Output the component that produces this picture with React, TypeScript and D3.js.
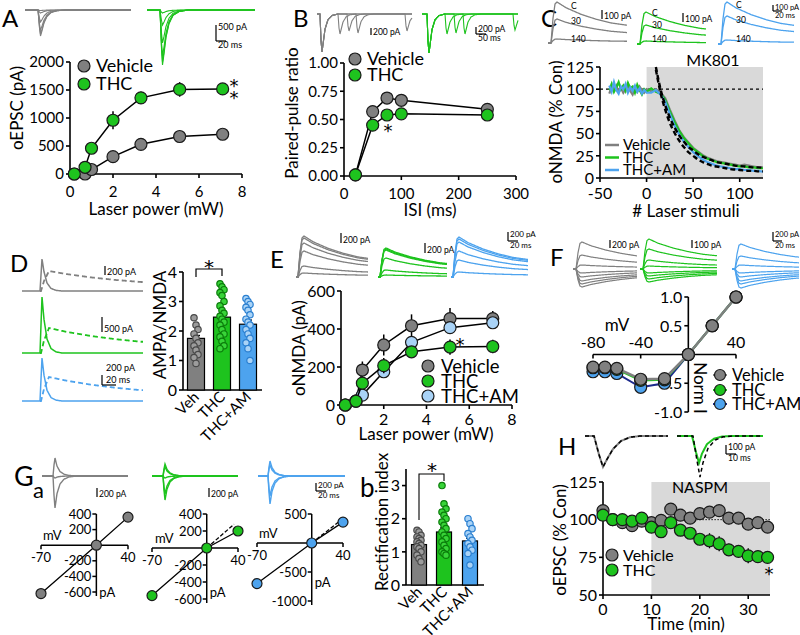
import React from 'react';
import * as d3 from 'd3';

// ---------------- DATA ----------------
// A
const laserPower = [0.2, 0.7, 1.0, 2.0, 3.3, 5.1, 7.1];
const aVehicle = [0, 0, 80, 310, 530, 670, 710];
const aVehicleErr = [0, 0, 20, 40, 50, 60, 40];
const aTHC = [0, 120, 460, 960, 1360, 1510, 1520];
const aTHCErr = [0, 20, 90, 160, 110, 130, 100];
const aTicksX = [0, 2, 4, 6, 8];
const aTicksY = [0, 500, 1000, 1500, 2000];
const aTraceVeh = [26, 24, 20, 12, 3, 0.5];
const aTraceTHC = [55, 52, 46, 33, 15, 3];

// B
const isi = [20, 50, 75, 100, 250];
const bVehicle = [0.01, 0.57, 0.69, 0.67, 0.59];
const bVehicleErr = [0.01, 0.03, 0.05, 0.04, 0.03];
const bTHC = [0.01, 0.45, 0.54, 0.55, 0.54];
const bTHCErr = [0.01, 0.03, 0.03, 0.03, 0.02];
const bTicksX = [0, 100, 200, 300];
const bTicksY = [0, 0.25, 0.5, 0.75, 1.0];

// C
const cPreStim = [-40, -37.5, -35, -32.5, -30, -27.5, -25, -22.5, -20, -17.5, -15, -12.5, -10, -7.5, -5, -2.5, 0];
const cPostStim = [5, 10, 15, 20, 25, 30, 35, 40, 45, 50, 55, 60, 65, 70, 75, 80, 85, 90, 95, 100, 105, 110, 115, 120, 125];
const cVehPre = [95, 103, 99, 104, 97, 101, 96, 100, 105, 98, 94, 101, 97, 103, 99, 96, 100];
const cTHCPre = [99, 106, 97, 102, 108, 100, 104, 98, 107, 101, 103, 96, 105, 99, 94, 100, 97];
const cAMPre = [104, 97, 108, 99, 95, 103, 100, 106, 96, 102, 98, 104, 97, 101, 95, 99, 96];
const cVehPost = [98, 100, 96, 90, 77, 65, 54, 46, 40, 34, 30, 26, 23, 21, 19, 18, 17, 16, 15, 14, 15, 14, 13, 12, 12];
const cTHCPost = [101, 97, 95, 88, 75, 63, 53, 45, 39, 33, 29, 25, 22, 20, 18, 17, 16, 15, 14, 13, 13, 12, 12, 11, 11];
const cAMPost = [96, 99, 94, 86, 72, 59, 49, 41, 35, 29, 25, 21, 18, 16, 14, 13, 12, 11, 10, 10, 9, 9, 8, 8, 7];
const cFitStim = [10, 15, 20, 25, 30, 35, 40, 45, 50, 55, 60, 65, 70, 75, 80, 85, 90, 95, 100, 105, 110, 115, 120, 125];
const cFit1 = [125, 100, 82, 68, 57, 48, 41, 35, 31, 27, 24, 22, 20, 18, 17, 16, 15, 14, 13.5, 13, 12.5, 12, 12, 11.5];
const cFit2 = [122, 96, 77, 62, 51, 42, 35, 29, 25, 21, 18, 16, 14, 13, 12, 11, 10, 9.5, 9, 8.5, 8, 8, 7.5, 7.5];
const cTicksX = [-50, 0, 50, 100];
const cTicksY = [0, 25, 50, 75, 100, 125];
const cTraceLabels = ['C', '30', '140'];
const cTraceVeh = [41, 24, 4];
const cTraceTHC = [32, 19, 3];
const cTraceAM = [42, 28, 4];

// D
const groups = ['Veh', 'THC', 'THC+AM'];
const dMeans = [1.75, 2.47, 2.23];
const dErr = [0.1, 0.12, 0.14];
const dVehDots = [2.45, 2.2, 2.05, 1.9, 1.75, 1.6, 1.5, 1.35, 1.2, 1.1, 0.9];
const dTHCDots = [3.6, 3.5, 3.4, 3.3, 3.2, 3.0, 2.85, 2.7, 2.6, 2.5, 2.4, 2.3, 2.2, 2.05, 1.9, 1.8, 1.65, 1.5, 1.4];
const dAMDots = [3.1, 3.0, 2.9, 2.8, 2.7, 2.55, 2.4, 2.3, 2.2, 2.05, 1.9, 1.75, 1.6, 1.4, 1.0];
const dTicksY = [0, 1, 2, 3, 4];

// E
const eVehicle = [0, 20, 184, 316, 417, 455, 455];
const eVehicleErr = [0, 5, 45, 55, 60, 55, 40];
const eTHC = [0, 20, 115, 207, 280, 305, 308];
const eTHCErr = [0, 5, 25, 40, 30, 40, 35];
const eAM = [0, 20, 52, 175, 330, 407, 433];
const eAMErr = [0, 5, 15, 25, 30, 25, 25];
const eTicksX = [0, 2, 4, 6, 8];
const eTicksY = [0, 200, 400, 600];
const eTraceVeh = [41, 39, 34, 26, 11, 4];
const eTraceTHC = [29, 28, 27, 19, 7, 2];
const eTraceAM = [40, 38, 35, 26, 17, 5];

// F
const fmV = [-80, -70, -60, -40, -20, 0, 20, 40];
const fVehicle = [-0.22, -0.22, -0.24, -0.43, -0.42, 0, 0.5, 1.0];
const fTHC = [-0.23, -0.23, -0.26, -0.45, -0.44, 0, 0.5, 1.0];
const fAM = [-0.3, -0.3, -0.33, -0.57, -0.5, 0, 0.5, 1.0];
const fTicksX = [-80, -40, 40];
const fTicksY = [1.0, 0.5, -0.5, -1.0];
const fTraceVeh = [-27, -14, -4, 4, 8, 12, 15, 18];
const fTraceTHC = [-30, -20, -9, -3, 4, 7, 10, 13];
const fTraceAM = [-25, -13, -4, 4, 8, 12, 15, 19];

// G a
const gmV = [-70, 0, 40];
const gVehicle = [-620, 0, 360];
const gTHC = [-560, 0, 200];
const gAM = [-700, 0, 360];
const gTHCLinear = [0, 280];
const gAMLinear = [0, 420];
const gTicks1 = [400, 200, -200, -400, -600];
const gTicks3 = [500, -500, -1000];
const gTraceVeh = [-18, 32, 2];
const gTraceTHC = [-12, -9, 24, 18, 2];
const gTraceAM = [-15, -11, 28, 20];

// G b
const gbMeans = [1.22, 1.6, 1.33];
const gbErr = [0.06, 0.12, 0.08];
const gbVehDots = [1.65, 1.6, 1.5, 1.45, 1.4, 1.35, 1.3, 1.25, 1.2, 1.15, 1.1, 1.0, 0.9, 0.8, 0.7];
const gbTHCDots = [3.0, 2.45, 2.3, 2.2, 2.1, 2.0, 1.9, 1.8, 1.7, 1.6, 1.5, 1.4, 1.3, 1.2, 1.1, 1.0, 0.95, 0.9];
const gbAMDots = [2.0, 1.85, 1.7, 1.55, 1.45, 1.35, 1.25, 1.15, 1.05, 0.95, 0.6];
const gbTicksY = [0, 1, 2, 3];

// H
const hTime = [0, 2, 4, 6, 8, 10, 12, 14, 16, 18, 20, 22, 24, 26, 28, 30, 32, 34];
const hVehicle = [106, 100, 98, 96, 99, 98, 99.5, 107, 103, 101, 104, 105, 106, 101, 101, 97, 98, 95];
const hVehicleErr = [2, 1, 2, 2, 1, 2, 2, 2, 3, 3, 3, 3, 3, 4, 3, 3, 3, 2];
const hTHC = [103, 100, 100, 99, 101, 95, 92, 98, 93, 91, 87, 86, 84, 80, 79, 76, 75.5, 75];
const hTHCErr = [2, 1, 1, 2, 1, 2, 2, 2, 3, 3, 4, 5, 5, 4, 4, 5, 4, 4];
const hTicksX = [0, 10, 20, 30];
const hTicksY = [50, 75, 100, 125];

// ---------------- STYLE ----------------
const FONT = "Lato, 'Open Sans', 'DejaVu Sans', sans-serif";
const GRAY = '#808080';
const GREEN = '#1ec31e';
const BLUE = '#4da3ee';
const LBLUE = '#a9d3f7';
const DBLUE = '#1c2a8c';
const SHADE = '#d9d9d9';
const AX = 1.6;

// ---------------- HELPERS ----------------
type Key = [number, number][];
const K_FAST: Key = [[0, 0], [1.5, 0.7], [2.5, 1], [4, 0.8], [6, 0.5], [9, 0.25], [13, 0.1], [19, 0.03], [28, 0]];
const K_PP: Key = [[0, 0], [1, 0.7], [2, 1], [3, 0.8], [5, 0.4], [8, 0.15], [12, 0.04], [18, 0]];
const K_NMDA: Key = [[0, 0], [2, 0.6], [4, 0.95], [6, 1], [15, 0.86], [30, 0.7], [45, 0.58], [60, 0.49], [80, 0.42]];
const K_NMDA_D: Key = [[0, 0], [3, 0.5], [8, 1], [25, 0.85], [50, 0.68], [75, 0.55], [100, 0.45]];
const K_AMPA_D: Key = [[0, 0], [1, 0.5], [2, 1], [4, 0.6], [7, 0.25], [11, 0.08], [16, 0.02], [22, 0]];
const K_G: Key = [[0, 0], [1, 0.6], [2, 1], [4, 0.55], [7, 0.25], [11, 0.1], [16, 0.03], [24, 0]];
const K_H: Key = [[0, 0], [5, 0.6], [9, 1], [13, 0.75], [19, 0.42], [27, 0.16], [36, 0.04], [46, 0]];
const K_H2: Key = [[0, 0], [4, 0.6], [7, 1], [10, 0.65], [15, 0.3], [22, 0.1], [30, 0.02], [40, 0]];

function kernel(keys: Key) {
  const s = d3.scaleLinear().domain(keys.map(k => k[0])).range(keys.map(k => k[1])).clamp(true);
  return (t: number) => (t < 0 ? 0 : s(t));
}
type Ev = { on: number; amp: number; k: Key };
function tracePath(x0: number, x1: number, y0: number, events: Ev[]) {
  const ks = events.map(e => kernel(e.k));
  const xs = d3.range(x0, x1 + 0.01, 0.5);
  const pts: [number, number][] = xs.map(x => [x, y0 + events.reduce((s, e, i) => s + e.amp * ks[i](x - e.on), 0)]);
  return d3.line()(pts) || '';
}

const Dot = ({ cx, cy, fill, r = 6 }: any) => (
  <circle cx={cx} cy={cy} r={r} fill={fill} stroke="#1a1a1a" strokeWidth={1.2} />
);
const Star = ({ x, y, fs = 18 }: any) => (
  <text x={x} y={y} textAnchor="middle" fontSize={fs} fill="#000" fontFamily="'DejaVu Sans', sans-serif">*</text>
);

function YAxis({ x, sc, ticks, fmt = (d: number) => String(d), fs = 15, tl = 4 }: any) {
  const [r0, r1] = sc.range();
  return (
    <g>
      <line x1={x} x2={x} y1={r0} y2={r1} stroke="#000" strokeWidth={AX} />
      {ticks.map((t: number) => (
        <g key={t}>
          <line x1={x - tl} x2={x} y1={sc(t)} y2={sc(t)} stroke="#000" strokeWidth={AX} />
          <text x={x - tl - 2} y={sc(t)} dy="0.36em" textAnchor="end" fontSize={fs}>{fmt(t)}</text>
        </g>
      ))}
    </g>
  );
}
function XAxis({ y, sc, ticks, fmt = (d: number) => String(d), fs = 15, tl = 4, lb = 22 }: any) {
  const [r0, r1] = sc.range();
  return (
    <g>
      <line x1={r0} x2={r1} y1={y} y2={y} stroke="#000" strokeWidth={AX} />
      {ticks.map((t: number) => (
        <g key={t}>
          <line x1={sc(t)} x2={sc(t)} y1={y} y2={y + tl} stroke="#000" strokeWidth={AX} />
          <text x={sc(t)} y={y + lb} textAnchor="middle" fontSize={fs}>{fmt(t)}</text>
        </g>
      ))}
    </g>
  );
}
const VLabel = ({ x, y, text, fs = 17 }: any) => (
  <text transform={`translate(${x},${y}) rotate(-90)`} textAnchor="middle" fontSize={fs}>{text}</text>
);
function Series({ xs, ys, errs, x, y, fill, r = 6, lineColor = '#000' }: any) {
  const line = d3.line<number>().x((_, i) => x(xs[i])).y(d => y(d));
  return (
    <g>
      <path d={line(ys) || ''} fill="none" stroke={lineColor} strokeWidth={1.5} />
      {errs && ys.map((v: number, i: number) => (
        <line key={'e' + i} x1={x(xs[i])} x2={x(xs[i])} y1={y(v - errs[i])} y2={y(v + errs[i])} stroke="#000" strokeWidth={1.5} />
      ))}
      {ys.map((v: number, i: number) => <Dot key={i} cx={x(xs[i])} cy={y(v)} fill={fill} r={r} />)}
    </g>
  );
}
function ScaleBar({ x, y1, y2, x2, t1, t2, fs = 8.5 }: any) {
  return (
    <g>
      <line x1={x} x2={x} y1={y1} y2={y2} stroke="#000" strokeWidth={1.2} />
      {x2 !== undefined && <line x1={x} x2={x2} y1={y2} y2={y2} stroke="#000" strokeWidth={1.2} />}
      {t1 && <text x={x + 2} y={t2 ? y1 + 5 : y2} fontSize={fs}>{t1}</text>}
      {t2 && <text x={x + 2} y={y2 + 7} fontSize={fs}>{t2}</text>}
    </g>
  );
}

// ---------------- PANELS ----------------
function PanelA() {
  const x = d3.scaleLinear().domain([0, 8]).range([70, 242]);
  const y = d3.scaleLinear().domain([0, 2000]).range([174, 62]);
  return (
    <g>
      <text x={2} y={27} fontSize={24}>A</text>
      {aTraceVeh.map((a, i) => <path key={'g' + i} d={tracePath(25, 131, 10, [{ on: 38, amp: a, k: K_FAST }])} fill="none" stroke={GRAY} strokeWidth={1.1} />)}
      {aTraceTHC.map((a, i) => <path key={'t' + i} d={tracePath(147, 255, 10, [{ on: 160, amp: a, k: K_FAST }])} fill="none" stroke={GREEN} strokeWidth={1.1} />)}
      <ScaleBar x={216} y1={25} y2={41} x2={226} t1="500 pA" t2="20 ms" fs={9} />
      <YAxis x={70} sc={y} ticks={aTicksY} />
      <XAxis y={174} sc={x} ticks={aTicksX} lb={23} />
      <Series xs={laserPower} ys={aVehicle} errs={aVehicleErr} x={x} y={y} fill={GRAY} />
      <Series xs={laserPower} ys={aTHC} errs={aTHCErr} x={x} y={y} fill={GREEN} />
      <Dot cx={84} cy={66} fill={GRAY} />
      <Dot cx={84} cy={84} fill={GREEN} />
      <text x={96} y={66} dy="0.36em" fontSize={18}>Vehicle</text>
      <text x={96} y={84} dy="0.36em" fontSize={18}>THC</text>
      <Star x={234} y={92} />
      <Star x={234} y={104} />
      <text x={156} y={215} textAnchor="middle" fontSize={17}>Laser power (mW)</text>
      <VLabel x={23} y={108} text="oEPSC (pA)" />
    </g>
  );
}

function PanelB() {
  const x = d3.scaleLinear().domain([0, 300]).range([344, 516]);
  const y = d3.scaleLinear().domain([0, 1]).range([176, 63]);
  const vehSecond = [[338, 20], [347, 17], [356, 19], [405, 17]];
  const thcSecond = [[445, 20], [454, 19], [463, 20], [513, 16]];
  return (
    <g>
      <text x={293} y={27} fontSize={24}>B</text>
      {vehSecond.map((s, i) => <path key={'g' + i} d={tracePath(317, 412, 14, [{ on: 320, amp: 38, k: K_PP }, { on: s[0], amp: s[1], k: K_PP }])} fill="none" stroke={GRAY} strokeWidth={1.1} />)}
      {thcSecond.map((s, i) => <path key={'t' + i} d={tracePath(422, 518, 14, [{ on: 427, amp: 39, k: K_PP }, { on: s[0], amp: s[1], k: K_PP }])} fill="none" stroke={GREEN} strokeWidth={1.1} />)}
      <ScaleBar x={371} y1={28} y2={35} t1="200 pA" fs={8.5} />
      <ScaleBar x={476} y1={27} y2={34} x2={486} t1="200 pA" t2="50 ms" fs={8.5} />
      <YAxis x={344} sc={y} ticks={bTicksY} fmt={(d: number) => d.toFixed(2)} />
      <XAxis y={176} sc={x} ticks={bTicksX} lb={23} />
      <Series xs={isi} ys={bVehicle} errs={bVehicleErr} x={x} y={y} fill={GRAY} />
      <Series xs={isi} ys={bTHC} errs={bTHCErr} x={x} y={y} fill={GREEN} />
      <Dot cx={355} cy={59} fill={GRAY} />
      <Dot cx={355} cy={75} fill={GREEN} />
      <text x={367} y={59} dy="0.36em" fontSize={18}>Vehicle</text>
      <text x={367} y={75} dy="0.36em" fontSize={18}>THC</text>
      <Star x={388} y={137} />
      <text x={430} y={216} textAnchor="middle" fontSize={17}>ISI (ms)</text>
      <VLabel x={298} y={113} text="Paired-pulse ratio" />
    </g>
  );
}

function PanelC() {
  const x = d3.scaleLinear().domain([-50, 125]).range([600, 763]);
  const y = d3.scaleLinear().domain([0, 125]).range([178, 67]);
  const xs = [...cPreStim, ...cPostStim];
  const line = d3.line<number>().x((_, i) => x(xs[i])).y(d => y(d));
  const fit = d3.line<number>().x((_, i) => x(cFitStim[i])).y(d => y(d)).curve(d3.curveMonotoneX);
  const tr = (x0: number, x1: number, y0: number, amps: number[], color: string) =>
    amps.map((a, i) => <path key={color + i} d={tracePath(x0, x1, y0, [{ on: x0 + 3, amp: -a, k: K_NMDA }])} fill="none" stroke={color} strokeWidth={1.3} />);
  const lbl = (lx: number, ys: number[]) => cTraceLabels.map((t, i) => <text key={t + lx} x={lx} y={ys[i]} fontSize={8.5}>{t}</text>);
  return (
    <g>
      <text x={541} y={27} fontSize={24}>C</text>
      {tr(548, 627, 43, cTraceVeh, GRAY)}
      {tr(637, 706, 44, cTraceTHC, GREEN)}
      {tr(718, 794, 44, cTraceAM, BLUE)}
      {lbl(571, [9, 24, 42])}
      {lbl(652, [16, 28, 42])}
      {lbl(736, [8, 23, 42])}
      <ScaleBar x={602} y1={10} y2={19} t1="100 pA" />
      <ScaleBar x={683} y1={13} y2={22} t1="100 pA" />
      <ScaleBar x={773} y1={5} y2={11} x2={782} t1="100 pA" t2="20 ms" fs={7.5} />
      <rect x={x(0)} y={y(125)} width={x(125) - x(0)} height={y(0) - y(125)} fill={SHADE} />
      <line x1={x(-50)} x2={x(125)} y1={y(100)} y2={y(100)} stroke="#000" strokeWidth={1.2} strokeDasharray="3,3" />
      <path d={line([...cVehPre, ...cVehPost]) || ''} fill="none" stroke={GRAY} strokeWidth={2.2} />
      <path d={line([...cTHCPre, ...cTHCPost]) || ''} fill="none" stroke={GREEN} strokeWidth={2.2} />
      <path d={line([...cAMPre, ...cAMPost]) || ''} fill="none" stroke={BLUE} strokeWidth={2.2} />
      <path d={fit(cFit1) || ''} fill="none" stroke="#000" strokeWidth={2.4} strokeDasharray="5,3" />
      <path d={fit(cFit2) || ''} fill="none" stroke="#000" strokeWidth={2.4} strokeDasharray="5,3" />
      <YAxis x={600} sc={y} ticks={cTicksY} fs={16} />
      <XAxis y={178} sc={x} ticks={cTicksX} fs={16} lb={21} />
      <text x={713} y={66} textAnchor="middle" fontSize={16}>MK801</text>
      {[['Vehicle', GRAY, 145], ['THC', GREEN, 157.5], ['THC+AM', BLUE, 170]].map(([t, c, yy]: any) => (
        <g key={t}>
          <line x1={605} x2={619} y1={yy} y2={yy} stroke={c} strokeWidth={2.5} />
          <text x={623} y={yy} dy="0.36em" fontSize={15}>{t}</text>
        </g>
      ))}
      <text x={686} y={217} textAnchor="middle" fontSize={17}># Laser stimuli</text>
      <VLabel x={562} y={122} text="oNMDA (% Con)" />
    </g>
  );
}

function BarGroup({ y, centers, means, errs, dots, fills, dotFills, dotStrokes, width }: any) {
  return (
    <g>
      {means.map((m: number, i: number) => (
        <g key={i}>
          <rect x={centers[i] - width / 2} y={y(m)} width={width} height={y(0) - y(m)} fill={fills[i]} stroke="#000" strokeWidth={1.2} />
          <line x1={centers[i]} x2={centers[i]} y1={y(m - errs[i])} y2={y(m + errs[i])} stroke="#000" strokeWidth={1.3} />
          <line x1={centers[i] - 4} x2={centers[i] + 4} y1={y(m + errs[i])} y2={y(m + errs[i])} stroke="#000" strokeWidth={1.3} />
        </g>
      ))}
      {dots.map((arr: number[], gi: number) => arr.map((v, j) => (
        <circle key={gi + '-' + j} cx={centers[gi] + ((j % 3) - 1) * 2} cy={y(v)} r={3.2} fill={dotFills[gi]} stroke={dotStrokes[gi]} strokeWidth={1.2} />
      )))}
    </g>
  );
}

function PanelD() {
  const y = d3.scaleLinear().domain([0, 4]).range([390, 272]);
  const centers = [196, 222, 248];
  const tr = (y0: number, a1: number, a2: number, color: string) => (
    <g>
      <path d={tracePath(22, 143, y0, [{ on: 40, amp: -a1, k: K_AMPA_D }])} fill="none" stroke={color} strokeWidth={1.5} />
      <path d={tracePath(40, 143, y0, [{ on: 41, amp: -a2, k: K_NMDA_D }])} fill="none" stroke={color} strokeWidth={1.8} strokeDasharray="5,3" />
    </g>
  );
  return (
    <g>
      <text x={10} y={272} fontSize={24}>D</text>
      {tr(291, 32, 20, GRAY)}
      {tr(353, 56, 25, GREEN)}
      {tr(401, 43, 24, BLUE)}
      <ScaleBar x={105} y1={266} y2={275} t1="200 pA" fs={9} />
      <ScaleBar x={102} y1={317} y2={332} t1="500 pA" fs={9} />
      <text x={106} y={371} fontSize={9}>200 pA</text>
      <ScaleBar x={102} y1={375} y2={385} x2={116} />
      <text x={106} y={383} fontSize={9}>20 ms</text>
      <YAxis x={183} sc={y} ticks={dTicksY} fs={16} />
      <line x1={183} x2={262} y1={390} y2={390} stroke="#000" strokeWidth={AX} />
      <BarGroup y={y} centers={centers} means={dMeans} errs={dErr} dots={[dVehDots, dTHCDots, dAMDots]}
        fills={[GRAY, GREEN, BLUE]} dotFills={['#9c9c9c', '#38d438', '#a9d3f7']} dotStrokes={['#4a4a4a', '#0b7d0b', '#2a7fd0']} width={17} />
      <path d={`M${centers[0]},277 V269 H${centers[1]} V276`} fill="none" stroke="#000" strokeWidth={1.2} />
      <Star x={209} y={274} fs={20} />
      {groups.map((g, i) => (
        <text key={g} transform={`translate(${centers[i] + 4},398) rotate(-45)`} textAnchor="end" fontSize={15}>{g}</text>
      ))}
      <VLabel x={166} y={325} text="AMPA/NMDA" />
    </g>
  );
}

function PanelE() {
  const x = d3.scaleLinear().domain([0, 8]).range([341, 512]);
  const y = d3.scaleLinear().domain([0, 600]).range([405, 291]);
  const tr = (x0: number, x1: number, amps: number[], color: string) =>
    amps.map((a, i) => <path key={color + i} d={tracePath(x0, x1, 277, [{ on: x0 + 2, amp: -a, k: K_NMDA }])} fill="none" stroke={color} strokeWidth={1.3} />);
  return (
    <g>
      <text x={270} y={268} fontSize={24}>E</text>
      {tr(296, 368, eTraceVeh, GRAY)}
      {tr(378, 447, eTraceTHC, GREEN)}
      {tr(451, 528, eTraceAM, BLUE)}
      <ScaleBar x={341} y1={233} y2={243} t1="200 pA" />
      <ScaleBar x={425} y1={243} y2={253} t1="200 pA" />
      <ScaleBar x={508} y1={232} y2={241} x2={518} t1="200 pA" t2="20 ms" fs={8} />
      <YAxis x={341} sc={y} ticks={eTicksY} fs={16} />
      <XAxis y={405} sc={x} ticks={eTicksX} fs={16} lb={20} />
      <Series xs={laserPower} ys={eVehicle} errs={eVehicleErr} x={x} y={y} fill={GRAY} />
      <Series xs={laserPower} ys={eAM} errs={eAMErr} x={x} y={y} fill={LBLUE} />
      <Series xs={laserPower} ys={eTHC} errs={eTHCErr} x={x} y={y} fill={GREEN} />
      {[['Vehicle', GRAY, 366], ['THC', GREEN, 381], ['THC+AM', LBLUE, 396]].map(([t, c, yy]: any) => (
        <g key={t}>
          <Dot cx={428} cy={yy} fill={c} />
          <text x={441} y={yy} dy="0.36em" fontSize={18.5}>{t}</text>
        </g>
      ))}
      <Star x={460} y={351} />
      <text x={426} y={440} textAnchor="middle" fontSize={17}>Laser power (mW)</text>
      <VLabel x={305} y={348} text="oNMDA (pA)" />
    </g>
  );
}

function PanelF() {
  const x = d3.scaleLinear().domain([-80, 40]).range([593, 736]);
  const y = d3.scaleLinear().domain([-1, 1]).range([412, 297]);
  const tr = (x0: number, x1: number, amps: number[], color: string) =>
    amps.map((a, i) => <path key={color + i} d={tracePath(x0, x1, 269, [{ on: x0 + 3, amp: a, k: K_NMDA }])} fill="none" stroke={color} strokeWidth={1.2} />);
  const mk = (ys: number[], color: string, fill: string, w: number) => {
    const line = d3.line<number>().x((_, i) => x(fmV[i])).y(d => y(d));
    return (
      <g>
        <path d={line(ys) || ''} fill="none" stroke={color} strokeWidth={w} />
        {ys.map((v, i) => <Dot key={i} cx={x(fmV[i])} cy={y(v)} fill={fill} r={6} />)}
      </g>
    );
  };
  const y0 = y(0);
  const x0 = x(0);
  return (
    <g>
      <text x={550} y={266} fontSize={24}>F</text>
      {tr(573, 637, fTraceVeh, GRAY)}
      {tr(640, 717, fTraceTHC, GREEN)}
      {tr(732, 799, fTraceAM, BLUE)}
      <ScaleBar x={610} y1={240} y2={248} t1="200 pA" />
      <ScaleBar x={692} y1={240} y2={248} t1="100 pA" />
      <ScaleBar x={773} y1={232} y2={241} x2={782} t1="200 pA" t2="20 ms" fs={7.5} />
      <line x1={x(-80)} x2={x(40)} y1={y0} y2={y0} stroke="#000" strokeWidth={AX} />
      {fTicksX.map(t => (
        <g key={t}>
          <line x1={x(t)} x2={x(t)} y1={y0} y2={y0 + 4} stroke="#000" strokeWidth={AX} />
          <text x={x(t)} y={y0 - 7} textAnchor="middle" fontSize={16}>{t}</text>
        </g>
      ))}
      <line x1={x0} x2={x0} y1={y(1)} y2={y(-1)} stroke="#000" strokeWidth={AX} />
      {fTicksY.map(t => (
        <g key={t}>
          <line x1={x0 - 4} x2={x0} y1={y(t)} y2={y(t)} stroke="#000" strokeWidth={AX} />
          <text x={x0 - 6} y={y(t)} dy="0.36em" textAnchor="end" fontSize={16}>{t.toFixed(1)}</text>
        </g>
      ))}
      <text x={617} y={331} textAnchor="middle" fontSize={17}>mV</text>
      <text transform={`translate(${x0 + 6},388) rotate(90)`} textAnchor="middle" fontSize={17}>Norm I</text>
      {mk(fAM, DBLUE, BLUE, 2)}
      {mk(fTHC, GREEN, GREEN, 2)}
      {mk(fVehicle, GRAY, GRAY, 2.5)}
      {[['Vehicle', GRAY, GRAY, 375], ['THC', GREEN, GREEN, 390], ['THC+AM', DBLUE, BLUE, 404]].map(([t, lc, c, yy]: any) => (
        <g key={t}>
          <line x1={713} x2={727} y1={yy} y2={yy} stroke={lc} strokeWidth={2} />
          <Dot cx={720} cy={yy} fill={c} r={5.5} />
          <text x={732} y={yy} dy="0.36em" fontSize={16.5}>{t}</text>
        </g>
      ))}
    </g>
  );
}

function IVPlot({ xr, yd, yr, ticks, vals, fill, dashed, pAy, mvX }: any) {
  const x = d3.scaleLinear().domain([-70, 40]).range(xr);
  const y = d3.scaleLinear().domain(yd).range(yr);
  const line = d3.line<number>().x((_, i) => x(gmV[i])).y(d => y(d));
  const ox = x(0);
  const oy = y(0);
  return (
    <g>
      <line x1={x(-70)} x2={x(40)} y1={oy} y2={oy} stroke="#000" strokeWidth={1.5} />
      {[-70, 40].map(t => (
        <g key={t}>
          <line x1={x(t)} x2={x(t)} y1={oy} y2={oy + 4} stroke="#000" strokeWidth={1.5} />
          <text x={x(t)} y={oy + 17} textAnchor="middle" fontSize={13}>{t}</text>
        </g>
      ))}
      <line x1={ox} x2={ox} y1={yr[1]} y2={yr[0] + 4} stroke="#000" strokeWidth={1.5} />
      {ticks.map((t: number) => (
        <g key={t}>
          <line x1={ox - 4} x2={ox} y1={y(t)} y2={y(t)} stroke="#000" strokeWidth={1.5} />
          <text x={ox - 5} y={y(t)} dy="0.36em" textAnchor="end" fontSize={13}>{t}</text>
        </g>
      ))}
      <text x={mvX} y={oy - 5} fontSize={13}>mV</text>
      <text x={ox + 3} y={pAy} fontSize={13}>pA</text>
      {dashed && <line x1={ox} y1={oy} x2={x(dashed[0])} y2={y(dashed[1])} stroke="#000" strokeWidth={1.3} strokeDasharray="4,2" />}
      <path d={line(vals) || ''} fill="none" stroke="#000" strokeWidth={1.3} />
      {vals.map((v: number, i: number) => <Dot key={i} cx={x(gmV[i])} cy={y(v)} fill={fill} r={5} />)}
    </g>
  );
}

function PanelG() {
  const y = d3.scaleLinear().domain([0, 3.5]).range([585, 469]);
  const centers = [419, 444, 470];
  const tr = (x0: number, x1: number, on: number, amps: number[], color: string) =>
    amps.map((a, i) => <path key={color + i} d={tracePath(x0, x1, 476, [{ on, amp: a, k: K_G }])} fill="none" stroke={color} strokeWidth={1.4} />);
  return (
    <g>
      <text x={14} y={486} fontSize={27}>G</text>
      <text x={33} y={498} fontSize={22}>a</text>
      {tr(42, 128, 53, gTraceVeh, GRAY)}
      {tr(152, 238, 163, gTraceTHC, GREEN)}
      {tr(258, 345, 268, gTraceAM, BLUE)}
      <ScaleBar x={97} y1={488} y2={497} t1="200 pA" />
      <ScaleBar x={209} y1={488} y2={497} t1="200 pA" />
      <ScaleBar x={316} y1={483} y2={491} x2={326} t1="200 pA" t2="20 ms" fs={8} />
      <IVPlot xr={[41, 128]} yd={[-600, 400]} yr={[592, 514]} ticks={gTicks1} vals={gVehicle} fill={GRAY} pAy={597} mvX={43} />
      <IVPlot xr={[152, 238]} yd={[-600, 400]} yr={[599, 514]} ticks={gTicks1} vals={gTHC} fill={GREEN} dashed={[35, gTHCLinear[1]]} pAy={597} mvX={155} />
      <IVPlot xr={[257, 343]} yd={[-1000, 500]} yr={[601, 514]} ticks={gTicks3} vals={gAM} fill={BLUE} dashed={[40, gAMLinear[1]]} pAy={587} mvX={259} />
      <text x={360} y={497} fontSize={26}>b</text>
      <YAxis x={406} sc={y} ticks={gbTicksY} fs={16} />
      <line x1={406} x2={484} y1={585} y2={585} stroke="#000" strokeWidth={AX} />
      <BarGroup y={y} centers={centers} means={gbMeans} errs={gbErr} dots={[gbVehDots, gbTHCDots, gbAMDots]}
        fills={[GRAY, GREEN, BLUE]} dotFills={['#9c9c9c', '#38d438', '#a9d3f7']} dotStrokes={['#4a4a4a', '#0b7d0b', '#2a7fd0']} width={15} />
      <path d={`M${centers[0]},520 V474 H${centers[1]} V481`} fill="none" stroke="#000" strokeWidth={1.1} />
      <Star x={432} y={477} fs={20} />
      {groups.map((g, i) => (
        <text key={g} transform={`translate(${centers[i] + 4},593) rotate(-45)`} textAnchor="end" fontSize={15}>{g}</text>
      ))}
      <VLabel x={388} y={522} text="Rectification index" />
    </g>
  );
}

function PanelH() {
  const x = d3.scaleLinear().domain([0, 34.5]).range([603, 770]);
  const y = d3.scaleLinear().domain([50, 125]).range([595, 482]);
  return (
    <g>
      <text x={558} y={455} fontSize={24}>H</text>
      <path d={tracePath(585, 668, 436, [{ on: 594, amp: 31, k: K_H }])} fill="none" stroke={GRAY} strokeWidth={2} />
      <path d={tracePath(585, 668, 436, [{ on: 594, amp: 31, k: K_H }])} fill="none" stroke="#000" strokeWidth={1.5} strokeDasharray="4,3" />
      <path d={tracePath(677, 763, 436, [{ on: 692, amp: 27, k: K_H2 }])} fill="none" stroke={GREEN} strokeWidth={2} />
      <path d={tracePath(677, 763, 436, [{ on: 693, amp: 41, k: K_H2 }])} fill="none" stroke="#000" strokeWidth={1.5} strokeDasharray="4,3" />
      <ScaleBar x={726} y1={445} y2={454} x2={736} t1="100 pA" t2="10 ms" fs={8.5} />
      <rect x={x(10)} y={y(125)} width={x(34.5) - x(10)} height={y(50) - y(125)} fill={SHADE} />
      <line x1={x(10)} x2={x(34.5)} y1={y(100)} y2={y(100)} stroke="#000" strokeWidth={0.9} strokeDasharray="1.5,1.5" />
      <YAxis x={603} sc={y} ticks={hTicksY} fs={16} />
      <XAxis y={595} sc={x} ticks={hTicksX} fs={16} lb={20} />
      <text x={700} y={493} textAnchor="middle" fontSize={16}>NASPM</text>
      {hVehicle.map((v, i) => <line key={'ve' + i} x1={x(hTime[i])} x2={x(hTime[i])} y1={y(v - hVehicleErr[i])} y2={y(v + hVehicleErr[i])} stroke="#000" strokeWidth={1.3} />)}
      {hVehicle.map((v, i) => <Dot key={'v' + i} cx={x(hTime[i])} cy={y(v)} fill={GRAY} />)}
      {hTHC.map((v, i) => <line key={'te' + i} x1={x(hTime[i])} x2={x(hTime[i])} y1={y(v - hTHCErr[i])} y2={y(v + hTHCErr[i])} stroke="#000" strokeWidth={1.3} />)}
      {hTHC.map((v, i) => <Dot key={'t' + i} cx={x(hTime[i])} cy={y(v)} fill={GREEN} />)}
      <Dot cx={612} cy={555} fill={GRAY} />
      <Dot cx={612} cy={570} fill={GREEN} />
      <text x={623} y={555} dy="0.36em" fontSize={16}>Vehicle</text>
      <text x={623} y={570} dy="0.36em" fontSize={16}>THC</text>
      <Star x={769} y={580} />
      <text x={686} y={630} textAnchor="middle" fontSize={17}>Time (min)</text>
      <VLabel x={566} y={540} text="oEPSC (% Con)" />
    </g>
  );
}

export default function App() {
  return (
    <svg width={800} height={635} viewBox="0 0 800 635" fontFamily={FONT}
      style={{ position: 'absolute', left: 0, top: 0, background: '#fff' }}>
      <rect width={800} height={635} fill="#fff" />
      <PanelA />
      <PanelB />
      <PanelC />
      <PanelD />
      <PanelE />
      <PanelF />
      <PanelG />
      <PanelH />
    </svg>
  );
}
